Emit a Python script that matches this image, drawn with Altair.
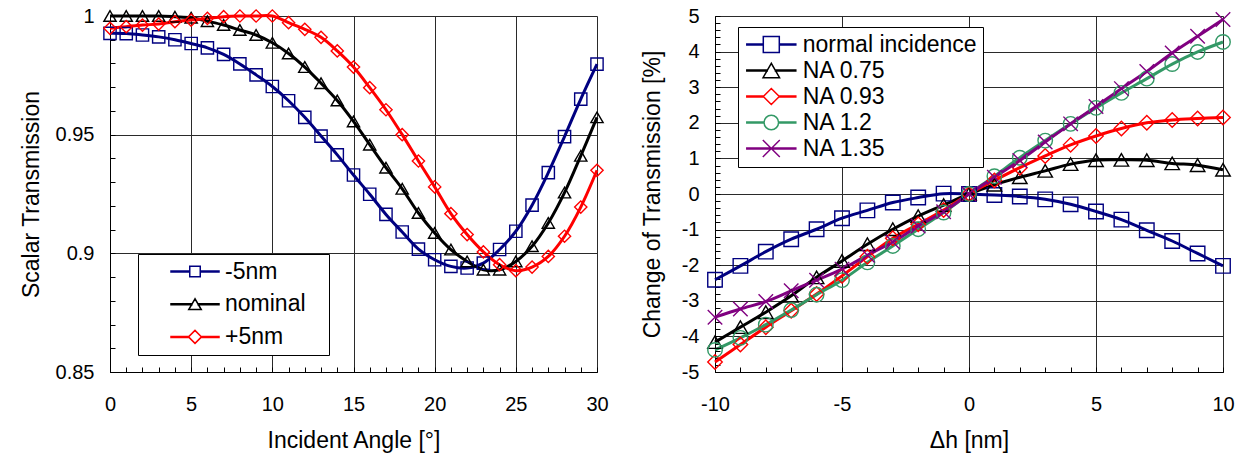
import altair as alt
import pandas as pd

FONT = "Liberation Sans"

# ---------------- data: left panel ----------------
angle = list(range(0, 31))
left_series = ["-5nm", "nominal", "+5nm"]
t_minus5 = [0.9927, 0.9926, 0.9920, 0.9912, 0.9900, 0.9884, 0.9866, 0.9838, 0.9798, 0.9752,
            0.9703, 0.9643, 0.9573, 0.9494, 0.9415, 0.9330, 0.9249, 0.9164, 0.9090, 0.9018,
            0.8973, 0.8945, 0.8938, 0.8959, 0.9016, 0.9093, 0.9203, 0.9340, 0.9492, 0.9650, 0.9797]
t_nominal = [1.0, 1.0, 1.0, 1.0, 0.9997, 0.9993, 0.9978, 0.9962, 0.9941, 0.9920,
             0.9887, 0.9842, 0.9785, 0.9717, 0.9644, 0.9556, 0.9458, 0.9361, 0.9272, 0.9170,
             0.9086, 0.9016, 0.8966, 0.8931, 0.8931, 0.8966, 0.9030, 0.9128, 0.9256, 0.9411, 0.9573]
t_plus5 = [0.9948, 0.9955, 0.9962, 0.9966, 0.9976, 0.9983, 0.9990, 0.9997, 1.0, 1.0,
           1.0, 0.9972, 0.9944, 0.9910, 0.9853, 0.9785, 0.9698, 0.9605, 0.9500, 0.9389,
           0.9280, 0.9167, 0.9079, 0.9006, 0.8952, 0.8927, 0.8942, 0.8987, 0.9072, 0.9195, 0.9350]

# ---------------- data: right panel ----------------
dh = list(range(-10, 11))
right_series = ["normal incidence", "NA 0.75", "NA 0.93", "NA 1.2", "NA 1.35"]
c_normal = [-2.41, -2.02, -1.62, -1.27, -0.99, -0.68, -0.46, -0.24, -0.10, 0.01, 0.0,
            -0.03, -0.07, -0.15, -0.29, -0.49, -0.72, -1.02, -1.32, -1.67, -2.02]
c_na075 = [-4.16, -3.74, -3.32, -2.86, -2.34, -1.88, -1.41, -0.99, -0.62, -0.31, 0.0,
           0.26, 0.47, 0.65, 0.84, 0.95, 0.96, 0.95, 0.86, 0.81, 0.68]
c_na093 = [-4.72, -4.23, -3.74, -3.28, -2.81, -2.30, -1.76, -1.24, -0.85, -0.45, 0.0,
           0.38, 0.74, 1.07, 1.38, 1.63, 1.84, 2.00, 2.08, 2.12, 2.15]
c_na12 = [-4.38, -4.04, -3.67, -3.26, -2.83, -2.42, -1.92, -1.46, -0.99, -0.52, 0.0,
          0.50, 1.02, 1.50, 1.97, 2.42, 2.84, 3.24, 3.65, 3.99, 4.27]
c_na135 = [-3.46, -3.23, -3.02, -2.72, -2.42, -2.11, -1.72, -1.35, -0.90, -0.50, 0.0,
           0.47, 0.94, 1.46, 1.97, 2.46, 2.96, 3.44, 3.96, 4.43, 4.90]

# ---------------- tick values ----------------
left_major_x = [0, 5, 10, 15, 20, 25, 30]
left_minor_x = list(range(0, 31))
left_major_y = [0.85, 0.9, 0.95, 1.0]
left_minor_y = [round(0.85 + 0.01 * i, 2) for i in range(16)]
right_major_x = [-10, -5, 0, 5, 10]
right_minor_x = list(range(-10, 11))
right_major_y = list(range(-5, 6))
right_minor_y = [round(-5 + 0.2 * i, 1) for i in range(51)]

# ---------------- styles ----------------
left_colors = ["#000080", "#000000", "#FF0000"]
right_colors = ["#000080", "#000000", "#FF0000", "#339966", "#800080"]
X_PATH = "M-1,-1L1,1M-1,1L1,-1"
left_shapes = ["square", "triangle-up", "diamond"]
right_shapes = ["square", "triangle-up", "diamond", "circle", X_PATH]


def seg(a, b, t=0.1):
    return f"M{a},{-t}H{b}V{t}H{a}Z"


def leg_square(h, L):
    return seg(-L, -h) + seg(h, L) + f"M{-h},{-h}H{h}V{h}H{-h}Z"


def leg_tri(w, L):
    h = round(0.866 * w, 3)
    return seg(-L, -w / 2) + seg(w / 2, L) + f"M0,{-h}L{-w},{h}L{w},{h}Z"


def leg_dia(w, L):
    return seg(-L, -w) + seg(w, L) + f"M{-w},0L0,{-w}L{w},0L0,{w}Z"


def leg_circ(r, L):
    return seg(-L, -r) + seg(r, L) + f"M{r},0A{r},{r} 0 1,1 {-r},0A{r},{r} 0 1,1 {r},0Z"


def leg_x(w, L):
    return seg(-L, L) + f"M{-w},{-w}L{w},{w}M{-w},{w}L{w},{-w}"


left_leg_paths = [leg_square(1.05, 4.8), leg_tri(1.25, 4.8), leg_dia(1.3, 4.8)]
right_leg_paths = [leg_square(1.6, 4.9), leg_tri(1.65, 4.9), leg_dia(1.6, 4.9),
                   leg_circ(1.45, 4.9), leg_x(1.7, 4.9)]

# ---------------- tables ----------------
left_df = pd.DataFrame({
    "x": angle * 3,
    "y": t_minus5 + t_nominal + t_plus5,
    "series": sum([[s] * len(angle) for s in left_series], []),
})
right_df = pd.DataFrame({
    "x": dh * 5,
    "y": c_normal + c_na075 + c_na093 + c_na12 + c_na135,
    "series": sum([[s] * len(dh) for s in right_series], []),
})

LABEL_SIZE = 20
TITLE_SIZE = 23


def main_axis(values, title, orient, label_pad, title_pad, fmt=None, expr=None):
    kw = dict(values=values, title=title, orient=orient, grid=True, ticks=False,
              domain=True, domainColor="black", gridColor="#2a2a2a", gridWidth=1,
              labelFontSize=LABEL_SIZE, titleFontSize=TITLE_SIZE, labelFont=FONT,
              titleFont=FONT, labelColor="black", titleColor="black",
              titleFontWeight="normal", labelPadding=label_pad, titlePadding=title_pad,
              labelFlush=False, labelOverlap=False)
    if fmt:
        kw["format"] = fmt
    if expr:
        kw["labelExpr"] = expr
    return alt.Axis(**kw)


def minor_axis(values, orient):
    return alt.Axis(values=values, orient=orient, grid=False, labels=False, domain=False,
                    ticks=True, tickSize=5, offset=-5, tickColor="black", tickWidth=1,
                    title=None)


def panel(df, series, colors, shapes, leg_paths, xdom, ydom, xmaj, xmin, ymaj, ymin,
          xtitle, ytitle, w, h, yfmt, yexpr, xexpr, psize, legend_kw, ytitle_pad):
    xs = alt.Scale(domain=xdom, nice=False, zero=False)
    ys = alt.Scale(domain=ydom, nice=False, zero=False)
    cscale = alt.Scale(domain=series, range=colors)
    base = alt.Chart(df)
    lines = base.mark_line(strokeWidth=3, interpolate="catmull-rom").encode(
        x=alt.X("x:Q", scale=xs, axis=main_axis(xmaj, xtitle, "bottom", 22, 15, expr=xexpr)),
        y=alt.Y("y:Q", scale=ys, axis=main_axis(ymaj, ytitle, "left", 16, ytitle_pad,
                                                fmt=yfmt, expr=yexpr)),
        color=alt.Color("series:N", scale=cscale, legend=None),
        detail="series:N",
    )
    points = base.mark_point(filled=False, size=psize, strokeWidth=1.4, opacity=1).encode(
        x=alt.X("x:Q", scale=xs, axis=minor_axis(xmin, "bottom")),
        y=alt.Y("y:Q", scale=ys, axis=minor_axis(ymin, "left")),
        color=alt.Color("series:N", scale=cscale, legend=None),
        shape=alt.Shape("series:N", scale=alt.Scale(domain=series, range=shapes), legend=None),
    )
    leg = alt.Legend(title=None, orient="none", strokeColor="black", fillColor="white",
                     labelFontSize=23, labelFont=FONT, labelColor="black", labelLimit=500,
                     symbolSize=100, symbolStrokeWidth=1.5, symbolFillColor="white",
                     **legend_kw)
    legend_layer = base.transform_filter("false").mark_point(
        filled=False, size=100, strokeWidth=1.5, opacity=1).encode(
        color=alt.Color("series:N", scale=alt.Scale(domain=series, range=colors), legend=leg),
        shape=alt.Shape("series:N", scale=alt.Scale(domain=series, range=leg_paths), legend=leg),
    )
    return alt.layer(lines, points, legend_layer).resolve_scale(
        color="independent", shape="independent").resolve_axis(
        x="independent", y="independent").properties(width=w, height=h)


# blank (non-whitespace) filler that widens the left legend box to the right
FILL_L = "\u2800"
left = panel(left_df, left_series, left_colors, left_shapes, left_leg_paths,
             [0, 30], [0.85, 1.0], left_major_x, left_minor_x, left_major_y, left_minor_y,
             "Incident Angle [°]", "Scalar Transmission", 487, 356, "~g", None, None, 150,
             dict(legendX=28, legendY=238, padding=6, symbolOffset=39.5, labelOffset=18.5,
                  rowPadding=8.7, labelExpr=f"datum.label + '{FILL_L}'"), 12)

neg_expr = "datum.value < 0 ? '-' + format(-datum.value, 'd') : format(datum.value, 'd')"
right = panel(right_df, right_series, right_colors, right_shapes, right_leg_paths,
              [-10, 10], [-5, 5], right_major_x, right_minor_x, right_major_y, right_minor_y,
              "Δh [nm]", "Change of Transmission [%]", 508, 356, None, neg_expr, neg_expr, 210,
              dict(legendX=23, legendY=11, padding=6, symbolOffset=15.8, labelOffset=19.9,
                   rowPadding=2.0), 17)

chart = alt.hconcat(left, right, spacing=31).properties(
    padding={"left": 19, "top": 5, "right": 5, "bottom": 5}
).configure_view(stroke="black", strokeWidth=1).configure(background="white")

chart.save("out.html", embed_options={"renderer": "svg", "actions": False})
